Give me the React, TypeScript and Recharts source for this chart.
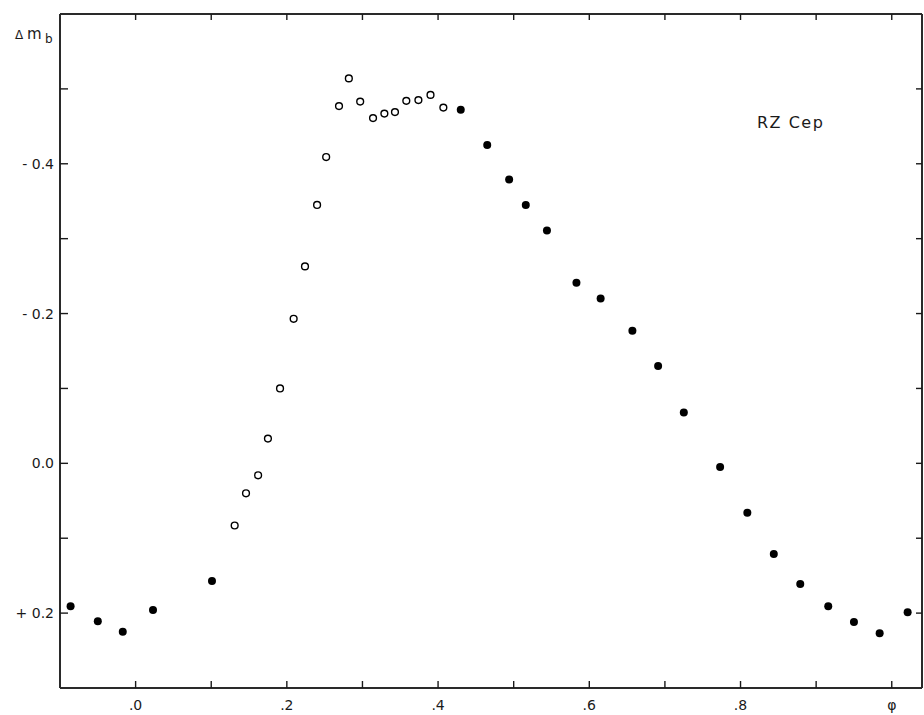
import React from "react";
import { ScatterChart, Scatter, XAxis, YAxis } from "recharts";

// phase / delta m_b; filled and open dots are separate runs
const filledPhase = [
  -0.086, -0.05, -0.017, 0.023, 0.101, 0.43, 0.465, 0.494, 0.516, 0.544, 0.583, 0.615,
  0.657, 0.691, 0.725, 0.773, 0.809, 0.844, 0.879, 0.916, 0.95, 0.984, 1.021,
];
const filledMag = [
  0.191, 0.211, 0.225, 0.196, 0.157, -0.472, -0.425, -0.379, -0.345, -0.311, -0.241, -0.22,
  -0.177, -0.13, -0.068, 0.005, 0.066, 0.121, 0.161, 0.191, 0.212, 0.227, 0.199,
];

const openPhase = [
  0.131, 0.146, 0.162, 0.175, 0.191, 0.209, 0.224, 0.24, 0.252, 0.269, 0.282, 0.297, 0.314,
  0.329, 0.343, 0.358, 0.374, 0.39, 0.407,
];
const openMag = [
  0.083, 0.04, 0.016, -0.033, -0.1, -0.193, -0.263, -0.345, -0.409, -0.477, -0.514, -0.483,
  -0.461, -0.467, -0.469, -0.484, -0.485, -0.492, -0.475,
];

const xTicks = [0, 0.1, 0.2, 0.3, 0.4, 0.5, 0.6, 0.7, 0.8, 0.9, 1.0];
const xLabels = [".0", "", ".2", "", ".4", "", ".6", "", ".8", "", "\u03c6"];
const yTicks = [-0.5, -0.4, -0.3, -0.2, -0.1, 0, 0.1, 0.2];
const yLabels = ["", "- 0.4", "", "- 0.2", "", "0.0", "", "+ 0.2"];

const filled = filledPhase.map((p, i) => ({ phase: p, mag: filledMag[i] }));
const open = openPhase.map((p, i) => ({ phase: p, mag: openMag[i] }));

const INK = "#1a1a1a";
const FONT = "'DejaVu Sans', Verdana, sans-serif";
const OFF = 8; // tickSize + tickMargin, so ticks can be drawn back from the axis line

const BottomTick = ({ x, y, index }: any) => {
  const ay = y - OFF;
  return (
    <g>
      <line x1={x} x2={x} y1={ay} y2={ay - 7} stroke={INK} strokeWidth={1.4} />
      <text x={x} y={ay + 22} textAnchor="middle" fontSize={14} fill={INK} fontFamily={FONT}>
        {xLabels[index]}
      </text>
    </g>
  );
};

const TopTick = ({ x, y }: any) => {
  const ay = y + OFF;
  return <line x1={x} x2={x} y1={ay} y2={ay + 6} stroke={INK} strokeWidth={1.4} />;
};

const LeftTick = ({ x, y, index }: any) => {
  const ax = x + OFF;
  return (
    <g>
      <line x1={ax} x2={ax + 8} y1={y} y2={y} stroke={INK} strokeWidth={1.4} />
      <text x={ax - 6} y={y + 5} textAnchor="end" fontSize={14} fill={INK} fontFamily={FONT}>
        {yLabels[index]}
      </text>
    </g>
  );
};

const RightTick = ({ x, y }: any) => {
  const ax = x - OFF;
  return <line x1={ax} x2={ax - 6} y1={y} y2={y} stroke={INK} strokeWidth={1.4} />;
};

const Dot = ({ cx, cy }: any) => <circle cx={cx} cy={cy} r={4} fill="#000" />;
const Ring = ({ cx, cy }: any) => (
  <circle cx={cx} cy={cy} r={3.4} fill="#fff" stroke="#000" strokeWidth={1.4} />
);

const axisLine = { stroke: "#2a2a2a", strokeWidth: 2 };

export default function App() {
  return (
    <div style={{ position: "absolute", left: 0, top: 0, width: 924, height: 715, background: "#fff" }}>
      <ScatterChart width={924} height={715} margin={{ top: 13, right: 1, bottom: 0, left: 0 }}>
        <XAxis
          dataKey="phase"
          type="number"
          domain={[-0.1, 1.04]}
          allowDataOverflow
          ticks={xTicks}
          interval={0}
          height={27}
          tickSize={6}
          tickMargin={2}
          tickLine={false}
          axisLine={axisLine}
          tick={<BottomTick />}
        />
        <XAxis
          xAxisId="top"
          orientation="top"
          dataKey="phase"
          type="number"
          domain={[-0.1, 1.04]}
          allowDataOverflow
          ticks={xTicks}
          interval={0}
          height={1}
          tickSize={6}
          tickMargin={2}
          tickLine={false}
          axisLine={axisLine}
          tick={<TopTick />}
        />
        <YAxis
          dataKey="mag"
          type="number"
          domain={[-0.6, 0.3]}
          reversed
          allowDataOverflow
          ticks={yTicks}
          interval={0}
          width={60}
          tickSize={6}
          tickMargin={2}
          tickLine={false}
          axisLine={axisLine}
          tick={<LeftTick />}
        />
        <YAxis
          yAxisId="right"
          orientation="right"
          dataKey="mag"
          type="number"
          domain={[-0.6, 0.3]}
          reversed
          allowDataOverflow
          ticks={yTicks}
          interval={0}
          width={1}
          tickSize={6}
          tickMargin={2}
          tickLine={false}
          axisLine={axisLine}
          tick={<RightTick />}
        />
        <Scatter data={open} shape={<Ring />} isAnimationActive={false} />
        <Scatter data={filled} shape={<Dot />} isAnimationActive={false} />
      </ScatterChart>
      <svg
        width={924}
        height={715}
        style={{ position: "absolute", left: 0, top: 0, pointerEvents: "none" }}
      >
        <text fontFamily={FONT} fill={INK}>
          <tspan x={15} y={39} fontSize={12}>Δ</tspan>
          <tspan x={27} y={39} fontSize={15}>m</tspan>
          <tspan x={45} y={43} fontSize={12}>b</tspan>
        </text>
        <text x={757} y={128} fontFamily={FONT} fontSize={16} letterSpacing={1.5} fill={INK}>
          RZ Cep
        </text>
      </svg>
    </div>
  );
}
